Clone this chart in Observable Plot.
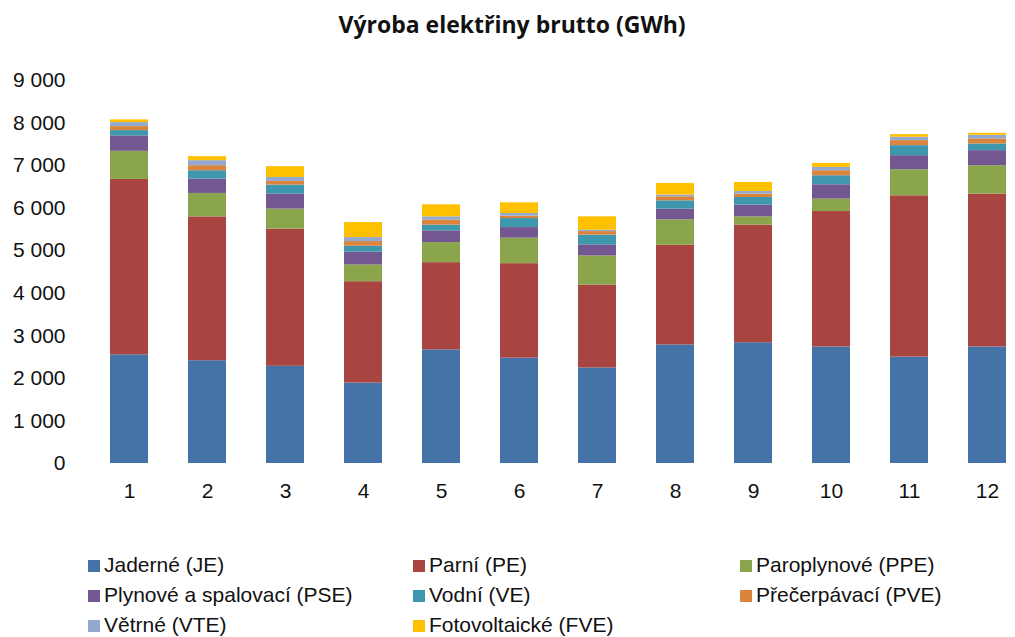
<!DOCTYPE html>
<html>
<head>
<meta charset="utf-8">
<script src="https://cdn.jsdelivr.net/npm/d3@7"></script>
<script src="https://cdn.jsdelivr.net/npm/@observablehq/plot@0.6"></script>
<style>
  html, body { margin: 0; padding: 0; background: #fff; overflow: hidden; }
  #wrap { position: relative; width: 1015px; height: 637px; overflow: hidden; font-family: "Liberation Sans", Arial, sans-serif; }
  #title { position: absolute; left: 0; width: 1024px; top: 10px; text-align: center; font-weight: bold; font-size: 23px; line-height: 28px; color: #111; font-family: "Open Sans", "Liberation Sans", sans-serif; }
  #chart { position: absolute; left: 0; top: 50px; }
  .leg { position: absolute; font-size: 21px; line-height: 24px; color: #111; white-space: nowrap; }
  .leg span.sw { display: inline-block; width: 12px; height: 12px; margin-right: 4px; vertical-align: 0px; }
</style>
</head>
<body>
<div id="wrap">
  <div id="title">Výroba elektřiny brutto (GWh)</div>
  <div id="chart"></div>
  <div id="legend"></div>
</div>
<script>
const months = [1, 2, 3, 4, 5, 6, 7, 8, 9, 10, 11, 12];
const seriesNames = ["Jaderné (JE)", "Parní (PE)", "Paroplynové (PPE)", "Plynové a spalovací (PSE)", "Vodní (VE)", "Přečerpávací (PVE)", "Větrné (VTE)", "Fotovoltaické (FVE)"];
const seriesColors = ["#4673a7", "#a94541", "#8aa54c", "#735790", "#3f97ae", "#db843d", "#93a9cf", "#ffc000"];
const JE  = [2554, 2415, 2284, 1890, 2670, 2476, 2245, 2785, 2838, 2739, 2500, 2739];
const PE  = [4121, 3381, 3223, 2382, 2050, 2220, 1949, 2345, 2763, 3182, 3791, 3592];
const PPE = [660, 550, 471, 393, 471, 598, 683, 596, 195, 292, 613, 667];
const PSE = [363, 339, 353, 300, 276, 250, 260, 252, 276, 337, 330, 354];
const VE  = [125, 195, 212, 141, 134, 212, 228, 195, 179, 212, 235, 157];
const PVE = [94, 118, 85, 109, 118, 57, 85, 95, 80, 118, 118, 118];
const VTE = [94, 118, 94, 94, 77, 61, 33, 40, 62, 78, 78, 85];
const FVE = [64, 94, 253, 353, 283, 252, 313, 273, 212, 94, 63, 47];
const yTicks = [0, 1000, 2000, 3000, 4000, 5000, 6000, 7000, 8000, 9000];

const seriesValues = [JE, PE, PPE, PSE, VE, PVE, VTE, FVE];
const data = [];
seriesNames.forEach((name, si) => {
  months.forEach((m, mi) => data.push({month: m, series: name, value: seriesValues[si][mi]}));
});

const fmt = d => d3.format(",")(d).replace(/,/g, " ");

const plot = Plot.plot({
  width: 1015,
  height: 500,
  marginLeft: 90,
  marginRight: 0,
  marginTop: 30,
  marginBottom: 87,
  style: {fontFamily: "'Liberation Sans', Arial, sans-serif", fontSize: "21px", color: "#111", background: "transparent", overflow: "visible"},
  x: {domain: months, paddingInner: 0.51, paddingOuter: 0.247, range: [90, 1027], label: null, tickSize: 0, tickPadding: 22},
  y: {domain: [0, 9000], ticks: yTicks, label: null, tickFormat: fmt, tickSize: 0, tickPadding: 25},
  color: {domain: seriesNames, range: seriesColors},
  marks: [
    Plot.ruleY(yTicks, {stroke: "#a8a8a8", strokeWidth: 2, x1: 90, x2: 1015}),
    Plot.barY(data, {x: "month", y: "value", fill: "series", order: seriesNames}),
    Plot.axisY({ticks: yTicks, tickFormat: fmt, tickSize: 0, tickPadding: 25, fontSize: 21}),
    Plot.axisX({tickSize: 0, tickPadding: 20, fontSize: 21})
  ]
});
document.getElementById("chart").appendChild(plot);

const legendPos = [
  [88, 565], [413, 565], [740, 565],
  [88, 595], [413, 595], [740, 595],
  [88, 625], [413, 625]
];
const legend = document.getElementById("legend");
seriesNames.forEach((name, i) => {
  const d = document.createElement("div");
  d.className = "leg";
  d.style.left = legendPos[i][0] + "px";
  d.style.top = (legendPos[i][1] - 12) + "px";
  d.innerHTML = `<span class="sw" style="background:${seriesColors[i]}"></span>`;
  d.appendChild(document.createTextNode(name));
  legend.appendChild(d);
});
</script>
</body>
</html>
